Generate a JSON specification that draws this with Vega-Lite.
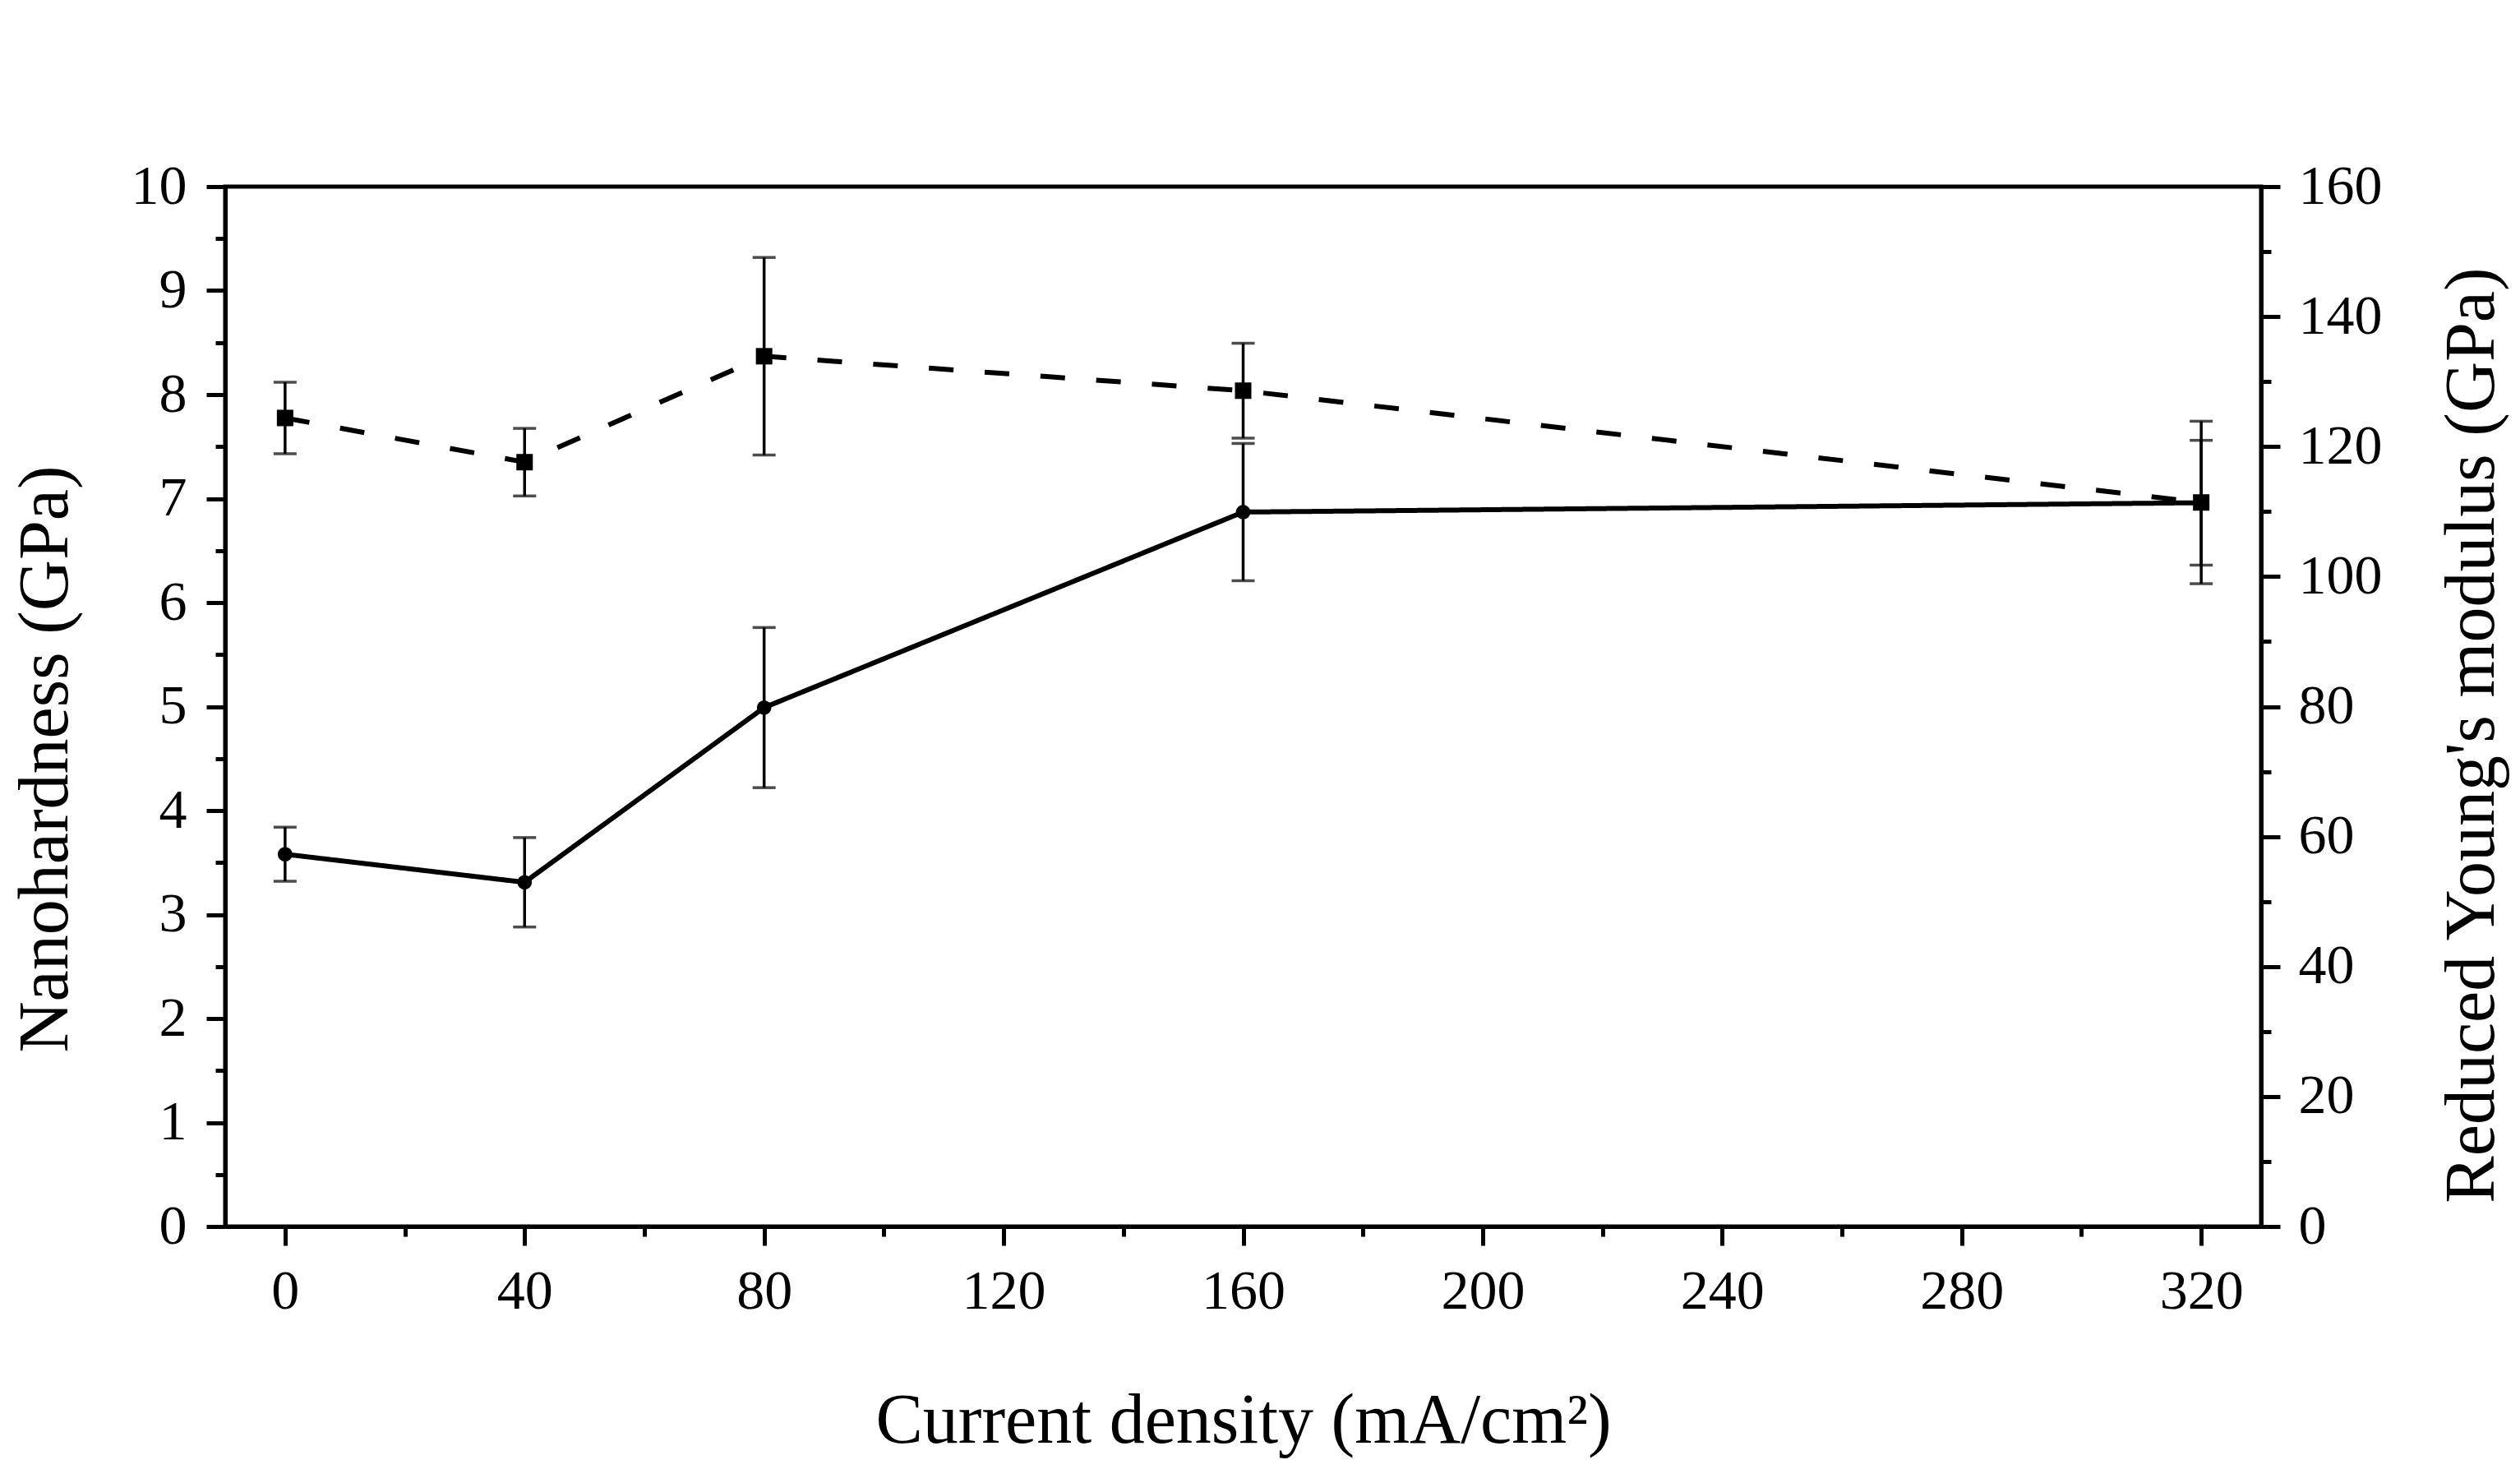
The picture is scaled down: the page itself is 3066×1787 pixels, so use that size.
{
  "$schema": "https://vega.github.io/schema/vega-lite/v6.json",
  "autosize": "none",
  "width": 2477,
  "height": 1265,
  "padding": {"left": 274, "top": 227, "right": 315, "bottom": 295},
  "background": "white",
  "config": {
    "view": {"stroke": "black", "strokeWidth": 5},
    "font": "Liberation Serif",
    "axis": {
      "grid": false,
      "domainColor": "black",
      "domainWidth": 5,
      "tickColor": "black",
      "tickWidth": 5,
      "labelColor": "black",
      "labelFont": "Liberation Serif",
      "labelFontSize": 68,
      "titleFont": "Liberation Serif",
      "titleFontSize": 86,
      "titleFontWeight": "normal",
      "titleColor": "black"
    }
  },
  "datasets": {
    "hardness": [
      {"x": 0, "series": "Overall nanohardness", "value": 3.58, "err": 0.26},
      {"x": 40, "series": "Overall nanohardness", "value": 3.31, "err": 0.43},
      {"x": 80, "series": "Overall nanohardness", "value": 4.99, "err": 0.77},
      {"x": 160, "series": "Overall nanohardness", "value": 6.87, "err": 0.66},
      {"x": 320, "series": "Overall nanohardness", "value": 6.96, "err": 0.6}
    ],
    "modulus": [
      {"x": 0, "series": "Reduced Young's modulus", "value": 124.4, "err": 5.5},
      {"x": 40, "series": "Reduced Young's modulus", "value": 117.6, "err": 5.2},
      {"x": 80, "series": "Reduced Young's modulus", "value": 133.9, "err": 15.2},
      {"x": 160, "series": "Reduced Young's modulus", "value": 128.6, "err": 7.3},
      {"x": 320, "series": "Reduced Young's modulus", "value": 111.4, "err": 12.5}
    ]
  },
  "layer": [
    {
      "data": {"name": "hardness"},
      "mark": {"type": "errorbar", "ticks": {"size": 28}, "thickness": 3.5, "color": "black"},
      "encoding": {
        "x": {"field": "x", "type": "quantitative",
          "scale": {"domain": [-10, 330], "nice": false, "zero": false},
          "axis": {"orient": "bottom", "values": [0, 40, 80, 120, 160, 200, 240, 280, 320], "tickSize": 23, "labelPadding": 22,
            "title": "Current density (mA/cm²)", "titleY": 236, "titleBaseline": "middle"}},
        "y": {"field": "value", "type": "quantitative",
          "scale": {"domain": [0, 10], "nice": false},
          "axis": {"orient": "left", "values": [0, 1, 2, 3, 4, 5, 6, 7, 8, 9, 10], "tickSize": 23, "labelPadding": 24,
            "title": "Nanohardness (GPa)", "titleX": -219, "titleY": 696, "titleAngle": 270, "titleBaseline": "middle", "titleAlign": "center"}},
        "yError": {"field": "err"}
      }
    },
    {
      "data": {"name": "hardness"},
      "mark": {"type": "line", "color": "black", "strokeWidth": 6},
      "encoding": {
        "x": {"field": "x", "type": "quantitative",
          "scale": {"domain": [-10, 330], "nice": false, "zero": false},
          "axis": {"orient": "bottom", "values": [20, 60, 100, 140, 180, 220, 260, 300], "tickSize": 12, "labels": false, "domain": false, "title": null}},
        "y": {"field": "value", "type": "quantitative",
          "scale": {"domain": [0, 10], "nice": false},
          "axis": {"orient": "left", "values": [0.5, 1.5, 2.5, 3.5, 4.5, 5.5, 6.5, 7.5, 8.5, 9.5], "tickSize": 12, "labels": false, "domain": false, "title": null}},
        "strokeDash": {"field": "series", "type": "nominal",
          "scale": {"domain": ["Overall nanohardness", "Reduced Young's modulus"], "range": [[1, 0], [30, 38]]},
          "legend": null}
      }
    },
    {
      "data": {"name": "hardness"},
      "mark": {"type": "point", "filled": true, "color": "black", "opacity": 1, "size": 314},
      "encoding": {
        "x": {"field": "x", "type": "quantitative", "scale": {"domain": [-10, 330], "nice": false, "zero": false}, "axis": null},
        "y": {"field": "value", "type": "quantitative", "scale": {"domain": [0, 10], "nice": false}, "axis": null},
        "shape": {"field": "series", "type": "nominal",
          "scale": {"domain": ["Overall nanohardness", "Reduced Young's modulus"], "range": ["circle", "square"]},
          "legend": {
            "title": null, "orient": "top", "direction": "horizontal", "offset": 123,
            "symbolSize": 350,
            "labelFontSize": 93, "labelFont": "Liberation Serif", "labelColor": "black",
            "labelOffset": 218, "columnPadding": 64, "labelLimit": 2000
          }}
      }
    },
    {
      "data": {"name": "modulus"},
      "mark": {"type": "errorbar", "ticks": {"size": 28}, "thickness": 3.5, "color": "black"},
      "encoding": {
        "x": {"field": "x", "type": "quantitative", "scale": {"domain": [-10, 330], "nice": false, "zero": false}, "axis": null},
        "y": {"field": "value", "type": "quantitative",
          "scale": {"domain": [0, 160], "nice": false},
          "axis": {"orient": "right", "values": [0, 20, 40, 60, 80, 100, 120, 140, 160], "tickSize": 23, "labelPadding": 22,
            "title": "Reduced Young's modulus (GPa)", "titleX": 256, "titleY": 667, "titleAngle": 270, "titleBaseline": "middle", "titleAlign": "center"}},
        "yError": {"field": "err"}
      }
    },
    {
      "data": {"name": "modulus"},
      "mark": {"type": "line", "color": "black", "strokeWidth": 6},
      "encoding": {
        "x": {"field": "x", "type": "quantitative", "scale": {"domain": [-10, 330], "nice": false, "zero": false}, "axis": null},
        "y": {"field": "value", "type": "quantitative",
          "scale": {"domain": [0, 160], "nice": false},
          "axis": {"orient": "right", "values": [10, 30, 50, 70, 90, 110, 130, 150], "tickSize": 12, "labels": false, "domain": false, "title": null}},
        "strokeDash": {"field": "series", "type": "nominal",
          "scale": {"domain": ["Overall nanohardness", "Reduced Young's modulus"], "range": [[1, 0], [30, 38]]},
          "legend": null}
      }
    },
    {
      "data": {"name": "modulus"},
      "mark": {"type": "point", "filled": true, "color": "black", "opacity": 1, "size": 400},
      "encoding": {
        "x": {"field": "x", "type": "quantitative", "scale": {"domain": [-10, 330], "nice": false, "zero": false}, "axis": null},
        "y": {"field": "value", "type": "quantitative", "scale": {"domain": [0, 160], "nice": false}, "axis": null},
        "shape": {"field": "series", "type": "nominal",
          "scale": {"domain": ["Overall nanohardness", "Reduced Young's modulus"], "range": ["circle", "square"]}}
      }
    }
  ],
  "resolve": {"scale": {"y": "independent"}, "axis": {"x": "independent", "y": "independent"}}
}
